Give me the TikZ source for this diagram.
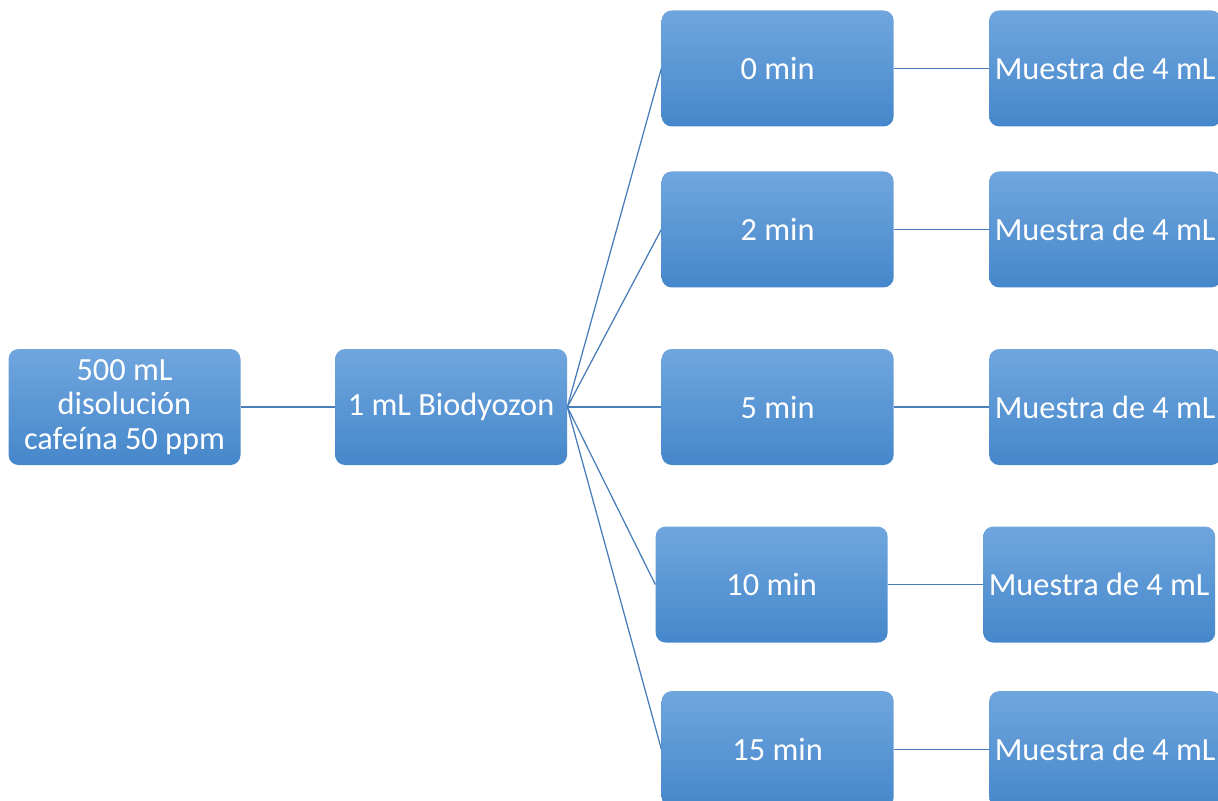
\documentclass[tikz,border=0pt]{standalone}
\usepackage{fontspec}
\setmainfont{Carlito}
\usetikzlibrary{positioning}

\definecolor{boxtop}{HTML}{70A6DE}
\definecolor{boxbot}{HTML}{4587CB}
\definecolor{linkblue}{HTML}{4A7EBB}

\tikzset{
  stepbox/.style={rounded corners=0.25cm, top color=boxtop, bottom color=boxbot,
    draw=none, text=white, minimum width=5.8cm, minimum height=2.9cm,
    inner sep=1pt, align=center, font=\fontsize{23}{24.5}\selectfont},
  link/.style={draw=linkblue, line width=0.9pt}
}

\begin{document}
\begin{tikzpicture}
    \useasboundingbox (0,0) rectangle (30.45,-20);

    \node[stepbox] (a) at (3.1125,-10.175) {500 mL\\disolución\\cafeína 50 ppm};
    \node[stepbox, right=2.35cm of a] (b) {1 mL Biodyozon};

    % tiempos de contacto
    \node[stepbox, right=2.35cm of b] (t5) {5 min};
    \node[stepbox, above=1.525cm of t5] (t2) {2 min};
    \node[stepbox, above=1.11cm of t2] (t0) {0 min};
    \node[stepbox, below=1.525cm of t5, xshift=-0.15cm] (t10) {10 min};
    \node[stepbox, below=1.2cm of t10, xshift=0.15cm] (t15) {15 min};

    % muestras
    \foreach \t in {0,2,5,10,15}
      \node[stepbox, right=2.375cm of t\t] (s\t) {Muestra de 4 mL};

    \draw[link] (a) -- (b);
    \foreach \t in {0,2,5,10,15} {
      \draw[link] (b.east) -- (t\t.west);
      \draw[link] (t\t) -- (s\t);
    }
\end{tikzpicture}
\end{document}
